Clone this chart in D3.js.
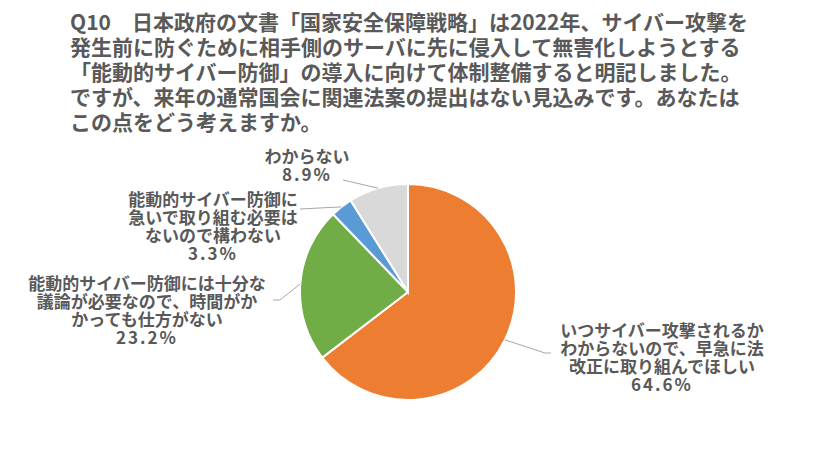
<!DOCTYPE html>
<html>
<head>
    <meta charset="utf-8">
    <script src="https://cdnjs.cloudflare.com/ajax/libs/d3/7.8.5/d3.min.js"></script>
    <style>
        body { margin: 0; background: #fff; }
        text { font-family: "Noto Sans CJK JP", "Noto Sans", sans-serif; font-weight: bold; fill: #595959; }
    </style>
</head>
<body>
    <div id="chart"></div>
    <script>
        var titleLines = [
            "Q10　日本政府の文書「国家安全保障戦略」は2022年、サイバー攻撃を",
            "発生前に防ぐために相手側のサーバに先に侵入して無害化しようとする",
            "「能動的サイバー防御」の導入に向けて体制整備すると明記しました。",
            "ですが、来年の通常国会に関連法案の提出はない見込みです。あなたは",
            "この点をどう考えますか。"
        ];
        var categories = [
            ["いつサイバー攻撃されるか", "わからないので、早急に法", "改正に取り組んでほしい"],
            ["能動的サイバー防御には十分な", "議論が必要なので、時間がか", "かっても仕方がない"],
            ["能動的サイバー防御に", "急いで取り組む必要は", "ないので構わない"],
            ["わからない"]
        ];
        var values = [64.6, 23.2, 3.3, 8.9];
        var colors = ["#ED7D31", "#70AD47", "#5B9BD5", "#D9D9D9"];

        // label boxes: center x, first baseline, leader end points
        var labelLayout = [
            { x: 662, y: 337, leader: [[545, 353], [551, 353]] },
            { x: 147, y: 290, leader: [[280, 300], [273, 300]] },
            { x: 213, y: 206, leader: [[300, 209]] },
            { x: 307, y: 163, leader: [[343, 180]] }
        ];

        var width = 813, height = 453;
        var cx = 408, cy = 292, radius = 108;

        var svg = d3.select("#chart").append("svg")
            .attr("width", width)
            .attr("height", height);

        svg.selectAll(".title")
            .data(titleLines)
            .enter().append("text")
            .attr("x", 70)
            .attr("y", function (d, i) { return 30 + i * 25; })
            .style("font-size", "21px")
            .text(function (d) { return d; });

        var pie = d3.pie().sort(null).value(function (d) { return d; });
        var arcs = pie(values);
        var arc = d3.arc().innerRadius(0).outerRadius(radius);

        var g = svg.append("g").attr("transform", "translate(" + cx + "," + cy + ")");

        g.selectAll("path")
            .data(arcs)
            .enter().append("path")
            .attr("d", arc)
            .attr("fill", function (d, i) { return colors[i]; })
            .attr("stroke", "#fff")
            .attr("stroke-width", 2);

        // leader lines
        for (var i = 0; i < arcs.length; i++) {
            var a = (arcs[i].startAngle + arcs[i].endAngle) / 2;
            var pts = [[cx + radius * Math.sin(a), cy - radius * Math.cos(a)]].concat(labelLayout[i].leader);
            svg.append("path")
                .attr("d", d3.line()(pts))
                .attr("fill", "none")
                .attr("stroke", "#A6A6A6")
                .attr("stroke-width", 1);
        }

        // labels
        for (var j = 0; j < categories.length; j++) {
            var lines = categories[j].concat([values[j].toFixed(1) + "%"]);
            var lab = svg.append("text")
                .attr("text-anchor", "middle")
                .style("font-size", "17px");
            for (var k = 0; k < lines.length; k++) {
                var ts = lab.append("tspan")
                    .attr("x", labelLayout[j].x)
                    .attr("y", labelLayout[j].y + k * 18)
                    .text(lines[k]);
                if (k === lines.length - 1) ts.style("letter-spacing", "2px");
            }
        }
    </script>
</body>
</html>
